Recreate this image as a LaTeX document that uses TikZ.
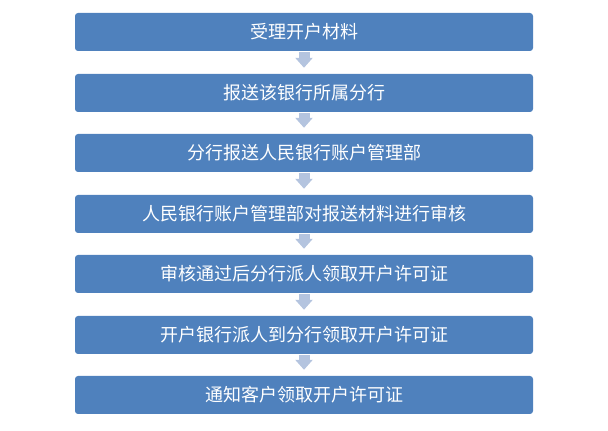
\documentclass[tikz,border=0pt]{standalone}
\usepackage{fontspec}
\setmainfont{Noto Sans CJK SC}
\usetikzlibrary{arrows.meta}
\definecolor{boxblue}{HTML}{4F81BD}
\definecolor{arrowblue}{HTML}{B4C4DF}
\tikzset{
  stepbox/.style={fill=boxblue, rounded corners=3pt, minimum width=458pt, minimum height=38pt, inner sep=0pt, text=white, font=\fontsize{18pt}{21pt}\selectfont},
  flowarrow/.style={arrowblue, line width=11pt, -{Triangle[width=17pt, length=10pt]}, shorten <=1pt, shorten >=6pt}
}
\begin{document}
\begin{tikzpicture}[x=1pt, y=1pt]
\useasboundingbox (0,0) rectangle (608,431);
\node[stepbox] (Step 1) at (304,399) {受理开户材料};
\node[stepbox] (Step 2) at (304,338) {报送该银行所属分行};
\node[stepbox] (Step 3) at (304,278) {分行报送人民银行账户管理部};
\node[stepbox] (Step 4) at (304,217) {人民银行账户管理部对报送材料进行审核};
\node[stepbox] (Step 5) at (304,157) {审核通过后分行派人领取开户许可证};
\node[stepbox] (Step 6) at (304,96) {开户银行派人到分行领取开户许可证};
\node[stepbox] (Step 7) at (304,36) {通知客户领取开户许可证};

\draw[flowarrow] (Step 1) -- (Step 2);
\draw[flowarrow] (Step 2) -- (Step 3);
\draw[flowarrow] (Step 3) -- (Step 4);
\draw[flowarrow] (Step 4) -- (Step 5);
\draw[flowarrow] (Step 5) -- (Step 6);
\draw[flowarrow] (Step 6) -- (Step 7);
\end{tikzpicture}
\end{document}
